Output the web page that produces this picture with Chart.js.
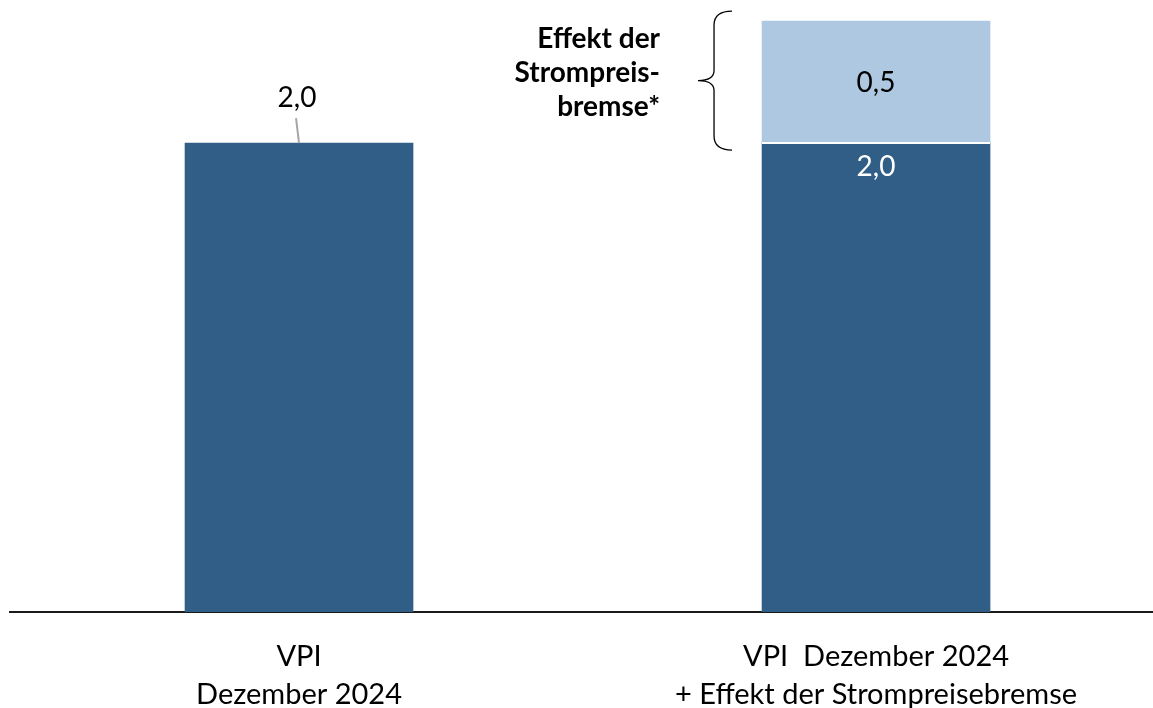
<!DOCTYPE html>
<html>
<head>
<meta charset="utf-8">
<script src="https://cdn.jsdelivr.net/npm/chart.js@4.4.1/dist/chart.umd.min.js"></script>
<style>
  html, body { margin: 0; padding: 0; background: #fff; overflow: hidden; }
  #wrap { width: 1153px; height: 708px; position: relative; }
</style>
</head>
<body>
<div id="wrap"><canvas id="myChart"></canvas></div>
<script>
// data
const categories = [
  ["VPI", "Dezember 2024"],
  ["VPI  Dezember 2024", "+ Effekt der Strompreisebremse"]
];
const positions = [0, 1];
const vpiValues = [2.0, 2.0];
const effektValues = [null, 0.52];
const effektText = ["Effekt der", "Strompreis-", "bremse*"];

const darkBlue = "#305e87";
const lightBlue = "#adc8e0";
const fontFamily = "Lato, 'Open Sans', sans-serif";

const fmt = (v) => v.toFixed(1).replace(".", ",");

const labelPlugin = {
  id: "labels",
  afterDatasetsDraw(chart) {
    const ctx = chart.ctx;
    const dark = chart.getDatasetMeta(0).data;
    const light = chart.getDatasetMeta(1).data;
    ctx.save();
    ctx.font = "28px " + fontFamily;
    ctx.textAlign = "center";
    ctx.textBaseline = "middle";

    // first bar: label above with small leader line
    let b = dark[0];
    ctx.strokeStyle = "#a6a6a6";
    ctx.lineWidth = 2;
    ctx.beginPath();
    ctx.moveTo(b.x - 3, b.y - 25);
    ctx.lineTo(b.x, b.y);
    ctx.stroke();
    ctx.fillStyle = "#000";
    ctx.fillText(fmt(vpiValues[0]), b.x - 2, b.y - 45);

    // second bar: white label inside dark part
    b = dark[1];
    ctx.fillStyle = "#fff";
    ctx.fillText(fmt(vpiValues[1]), b.x, b.y + 24);

    // light part label
    const l = light[1];
    ctx.fillStyle = "#000";
    ctx.fillText(fmt(effektValues[1]), l.x, (l.y + l.base) / 2 + 1);

    // white gap between segments
    ctx.strokeStyle = "#fff";
    ctx.lineWidth = 2;
    ctx.beginPath();
    ctx.moveTo(l.x - l.width / 2, l.base);
    ctx.lineTo(l.x + l.width / 2, l.base);
    ctx.stroke();

    // curly brace
    const top = l.y - 10, bot = l.base + 7, mid = (top + bot) / 2;
    const bx = l.x - l.width / 2 - 64;
    ctx.strokeStyle = "#000";
    ctx.lineWidth = 1.3;
    ctx.beginPath();
    ctx.moveTo(bx + 34, top);
    ctx.quadraticCurveTo(bx + 16, top, bx + 16, top + 14);
    ctx.lineTo(bx + 16, mid - 10);
    ctx.quadraticCurveTo(bx + 16, mid, bx, mid);
    ctx.quadraticCurveTo(bx + 16, mid, bx + 16, mid + 10);
    ctx.lineTo(bx + 16, bot - 14);
    ctx.quadraticCurveTo(bx + 16, bot, bx + 34, bot);
    ctx.stroke();

    // brace text
    ctx.font = "bold 28px " + fontFamily;
    ctx.textAlign = "right";
    ctx.fillStyle = "#000";
    effektText.forEach((t, i) => {
      ctx.fillText(t, bx - 38, mid - 42 + i * 34);
    });
    ctx.restore();
  }
};

new Chart("myChart", {
  type: "bar",
  data: {
    datasets: [
      {
        label: "VPI",
        data: positions.map((p, i) => ({ x: p, y: vpiValues[i] })),
        backgroundColor: darkBlue,
        barThickness: 228
      },
      {
        label: "Effekt",
        data: positions.map((p, i) => ({ x: p, y: effektValues[i] })),
        backgroundColor: lightBlue,
        barThickness: 228
      }
    ]
  },
  options: {
    responsive: true,
    maintainAspectRatio: false,
    animation: false,
    layout: { padding: { left: 10, right: 0, top: 0, bottom: 0 } },
    plugins: { legend: { display: false }, tooltip: { enabled: false } },
    scales: {
      x: {
        type: "linear",
        stacked: true,
        offset: false,
        min: -0.5009,
        max: 1.48,
        grid: { display: false, drawTicks: false, offset: false },
        border: { display: true, color: "#1a1a1a", width: 2 },
        afterBuildTicks: (s) => { s.ticks = positions.map((p) => ({ value: p })); },
        afterFit: (s) => { s.height = 96; },
        ticks: {
          autoSkip: false,
          maxRotation: 0,
          padding: 26,
          color: "#000",
          font: { family: fontFamily, size: 29, lineHeight: 1.3 },
          callback: (v) => categories[v] || ""
        }
      },
      y: {
        stacked: true,
        display: false,
        min: 0,
        max: 2.61
      }
    }
  },
  plugins: [labelPlugin]
});
</script>
</body>
</html>
